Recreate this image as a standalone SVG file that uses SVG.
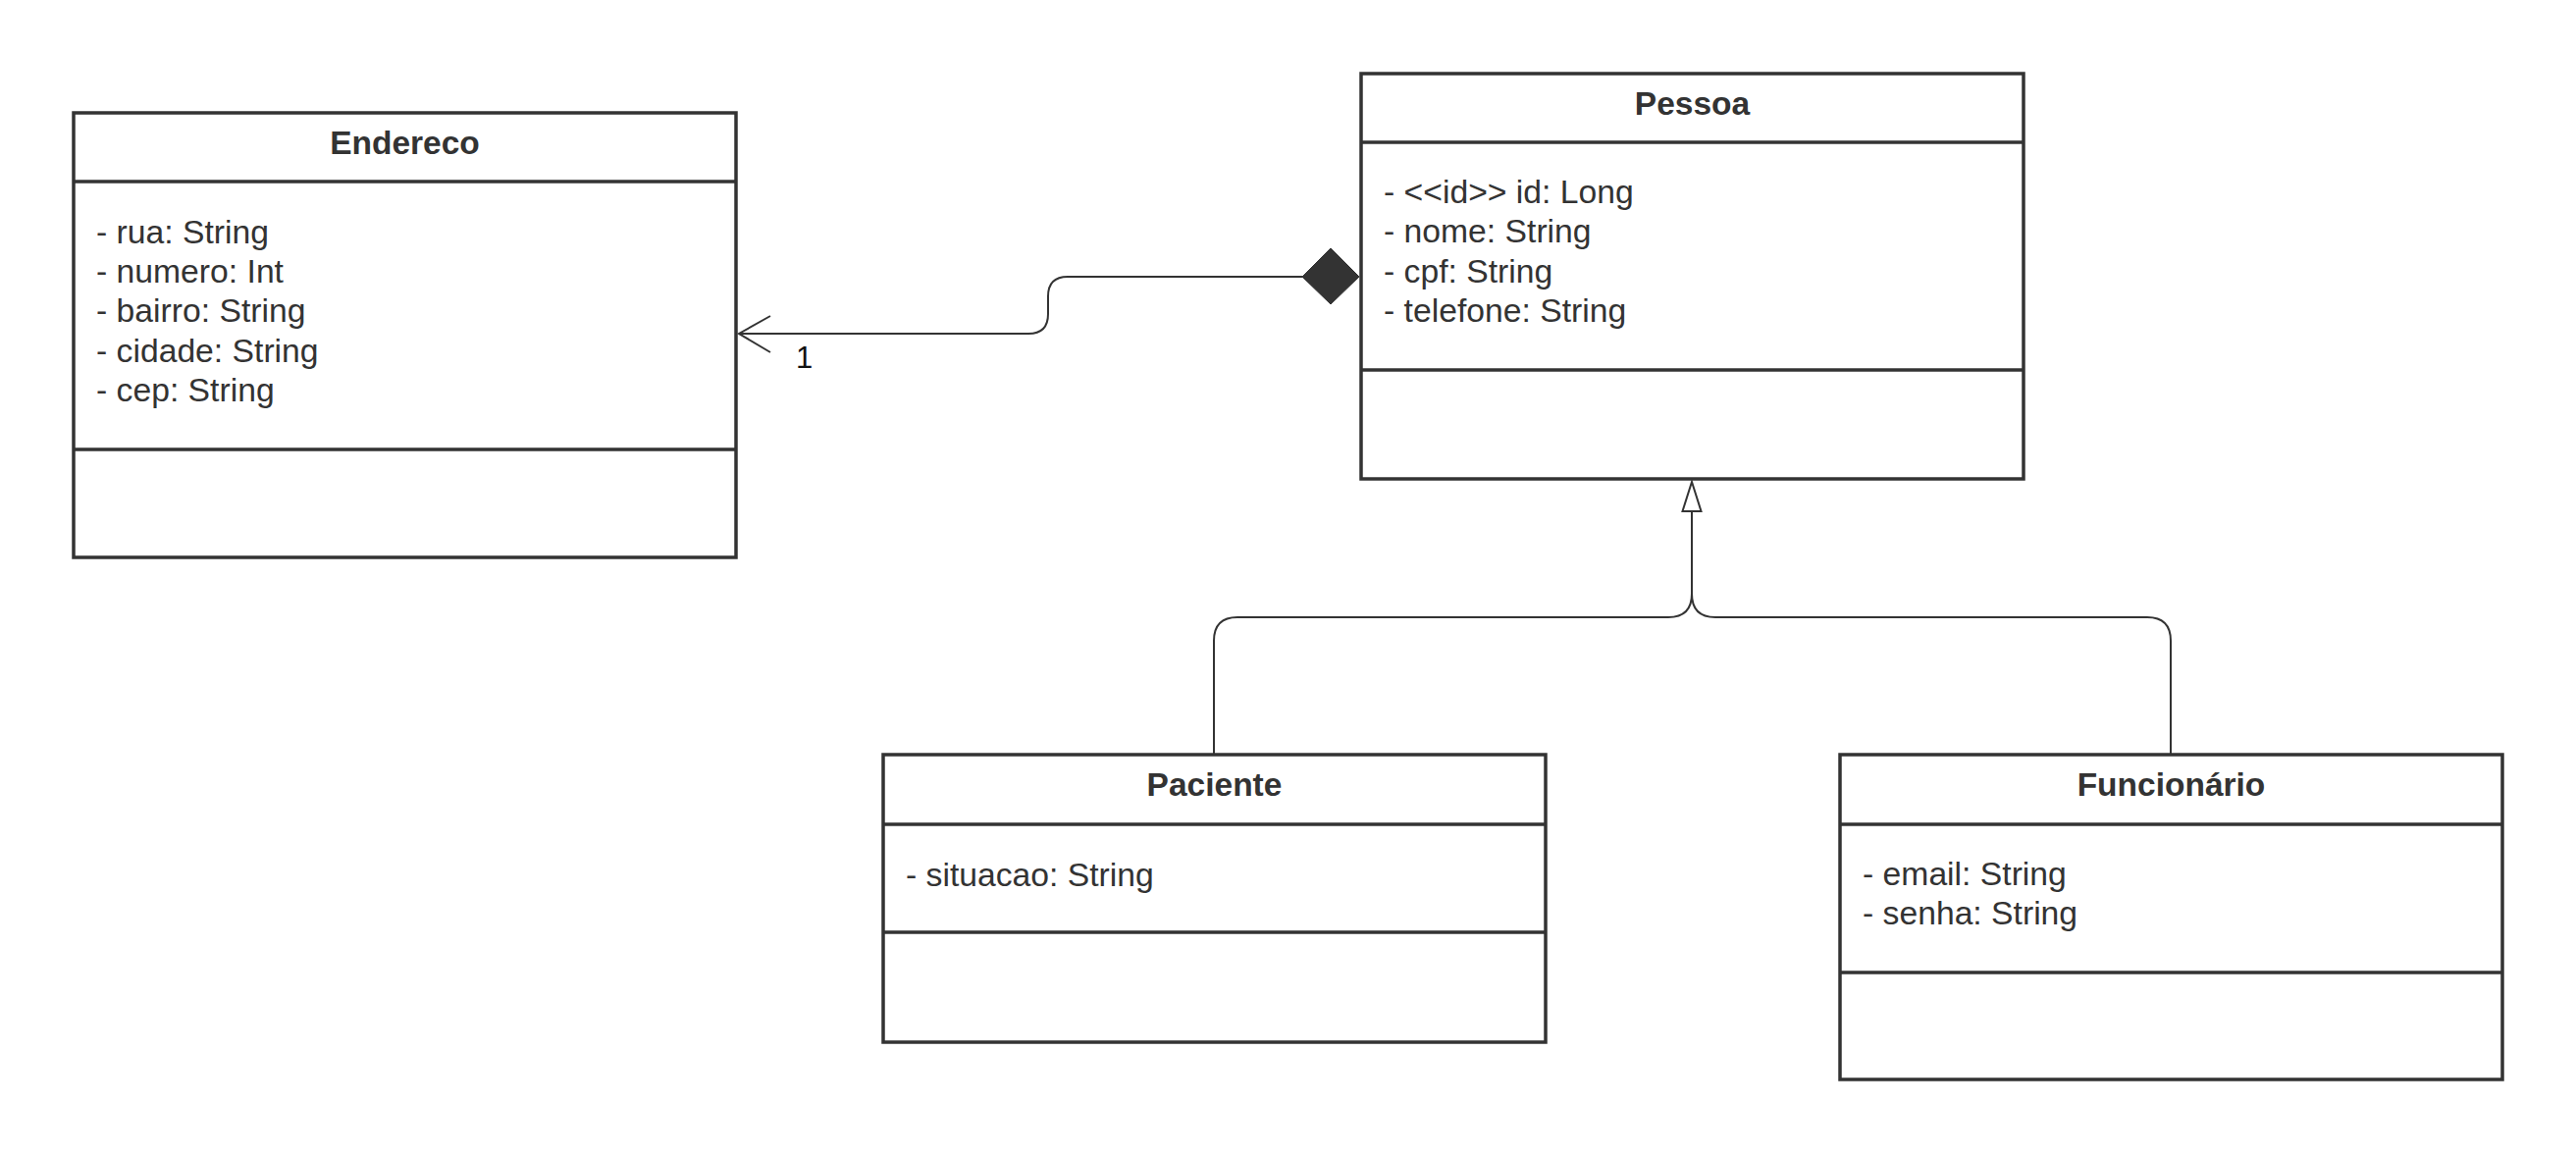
<svg xmlns="http://www.w3.org/2000/svg" width="2625" height="1178" viewBox="0 0 2625 1178">
<style>
.box{fill:#fff;stroke:#333;stroke-width:3.5}
.div{stroke:#333;stroke-width:3.5}
.title{font-family:"Liberation Sans",Arial,sans-serif;font-size:33.5px;font-weight:bold;fill:#333;text-anchor:middle}
.attr{font-family:"Liberation Sans",Arial,sans-serif;font-size:33.7px;fill:#333}
.conn{fill:none;stroke:#333;stroke-width:2}
.lbl{font-family:"Liberation Sans",Arial,sans-serif;font-size:31px;fill:#111}
</style>
<rect width="2625" height="1178" fill="#fff"/>
<g id="connectors">
  <path class="conn" d="M 1327 282 H 1088 Q 1068 282 1068 302 V 320 Q 1068 340 1048 340 H 753"/>
  <path class="conn" d="M 785 322 L 753 340 L 785 359"/>
  <polygon points="1327,282 1356,253 1385,282 1356,310" fill="#333" stroke="#333" stroke-width="1"/>
  <text class="lbl" x="811" y="375">1</text>
  <path class="conn" d="M 1237 768 V 653 Q 1237 629 1261 629 H 1700 Q 1724 629 1724 605 V 521"/>
  <path class="conn" d="M 2212 768 V 653 Q 2212 629 2188 629 H 1748 Q 1724 629 1724 605"/>
  <polygon points="1724,491 1714.5,521 1733.5,521" fill="#fff" stroke="#333" stroke-width="2"/>
</g>
<g id="endereco">
  <rect class="box" x="75" y="115" width="675" height="453"/>
  <line class="div" x1="75" y1="185" x2="750" y2="185"/>
  <line class="div" x1="75" y1="458" x2="750" y2="458"/>
  <text class="title" x="412.5" y="157">Endereco</text>
  <text class="attr" x="98" y="248">- rua: String</text>
  <text class="attr" x="98" y="288">- numero: Int</text>
  <text class="attr" x="98" y="328">- bairro: String</text>
  <text class="attr" x="98" y="369">- cidade: String</text>
  <text class="attr" x="98" y="409">- cep: String</text>
</g>
<g id="pessoa">
  <rect class="box" x="1387" y="75" width="675" height="413"/>
  <line class="div" x1="1387" y1="145" x2="2062" y2="145"/>
  <line class="div" x1="1387" y1="377" x2="2062" y2="377"/>
  <text class="title" x="1724.5" y="117">Pessoa</text>
  <text class="attr" x="1410" y="207">- &lt;&lt;id&gt;&gt; id: Long</text>
  <text class="attr" x="1410" y="247">- nome: String</text>
  <text class="attr" x="1410" y="288">- cpf: String</text>
  <text class="attr" x="1410" y="328">- telefone: String</text>
</g>
<g id="paciente">
  <rect class="box" x="900" y="769" width="675" height="293"/>
  <line class="div" x1="900" y1="840" x2="1575" y2="840"/>
  <line class="div" x1="900" y1="950" x2="1575" y2="950"/>
  <text class="title" x="1237.5" y="811">Paciente</text>
  <text class="attr" x="923" y="903">- situacao: String</text>
</g>
<g id="funcionario">
  <rect class="box" x="1875" y="769" width="675" height="331"/>
  <line class="div" x1="1875" y1="840" x2="2550" y2="840"/>
  <line class="div" x1="1875" y1="991" x2="2550" y2="991"/>
  <text class="title" x="2212.5" y="811">Funcionário</text>
  <text class="attr" x="1898" y="902">- email: String</text>
  <text class="attr" x="1898" y="942">- senha: String</text>
</g>
</svg>
